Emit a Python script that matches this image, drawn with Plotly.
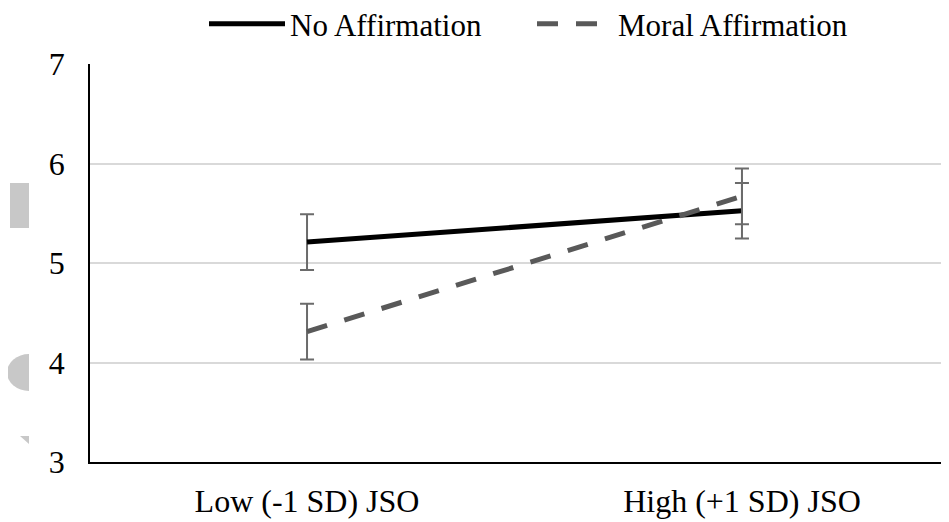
import plotly.graph_objects as go

categories = ["Low (-1 SD) JSO", "High (+1 SD) JSO"]
no_aff = [5.21, 5.525]
no_aff_err = [0.28, 0.28]
moral_aff = [4.31, 5.67]
moral_aff_err = [0.28, 0.28]
y_ticks = [3, 4, 5, 6, 7]

# page body has an 8px default margin, so the figure is shrunk and offset by it
OFF = 8
W, H = 949 - OFF, 522 - OFF
ML, MR, MT, MB = 90 - OFF, 0, 64 - OFF, 60
PW = W - ML - MR
PH = H - MT - MB

FONT = "Liberation Serif, Times New Roman, serif"

fig = go.Figure()
fig.add_trace(go.Scatter(
    x=[0, 1], y=no_aff, name="No Affirmation", mode="lines",
    line=dict(color="#000000", width=5),
    error_y=dict(type="data", array=no_aff_err, color="#6b6b6b", thickness=2, width=7),
))
fig.add_trace(go.Scatter(
    x=[0, 1], y=moral_aff, name="Moral Affirmation", mode="lines",
    line=dict(color="#595959", width=5, dash="21px,18px"),
    error_y=dict(type="data", array=moral_aff_err, color="#6b6b6b", thickness=2, width=7),
))

def px_x(p):
    return (p - OFF - ML) / PW

def px_y(p):
    return (H - MB - (p - OFF)) / PH

shapes = [
    dict(type="rect", xref="paper", yref="paper", x0=px_x(10), x1=px_x(29), y0=px_y(228), y1=px_y(183),
         fillcolor="#c8c8c8", line=dict(width=0), layer="below"),
    dict(type="circle", xref="paper", yref="paper", x0=px_x(7), x1=px_x(51), y0=px_y(391), y1=px_y(354),
         fillcolor="#c8c8c8", line=dict(width=0), layer="below"),
    dict(type="rect", xref="paper", yref="paper", x0=px_x(29), x1=px_x(60), y0=px_y(400), y1=px_y(340),
         fillcolor="#ffffff", line=dict(width=0), layer="below"),
    dict(type="path", xref="paper", yref="paper",
         path=f"M {px_x(20)} {px_y(436)} L {px_x(29)} {px_y(436)} L {px_x(29)} {px_y(444)} Z",
         fillcolor="#c8c8c8", line=dict(width=0), layer="below"),
]

fig.update_layout(
    width=W, height=H,
    margin=dict(l=ML, r=MR, t=MT, b=MB, autoexpand=False),
    paper_bgcolor="white", plot_bgcolor="white",
    font=dict(family=FONT, size=31, color="#000000"),
    showlegend=True,
    legend=dict(orientation="h", x=px_x(532), xanchor="center", y=1 + (64 - 24) / PH, yanchor="middle",
                font=dict(family=FONT, size=31, color="#000000"),
                itemwidth=76, entrywidth=237, tracegroupgap=0, bgcolor="rgba(0,0,0,0)"),
    xaxis=dict(range=[-0.499, 1.476], tickmode="array", tickvals=[0, 1], ticktext=categories,
               showgrid=False, zeroline=False, showline=True, linecolor="#000000", linewidth=1.5,
               ticks="", ticklabelstandoff=10, automargin=False, tickfont=dict(family=FONT, size=32)),
    yaxis=dict(range=[3, 7], tickmode="array", tickvals=y_ticks, ticktext=[str(v) for v in y_ticks],
               showgrid=True, gridcolor="#d9d9d9", gridwidth=1.5, zeroline=False,
               showline=True, linecolor="#000000", linewidth=1.5,
               ticks="", ticklabelstandoff=17, automargin=False, tickfont=dict(family=FONT, size=32)),
    shapes=shapes,
)

fig.write_html("out.html")
